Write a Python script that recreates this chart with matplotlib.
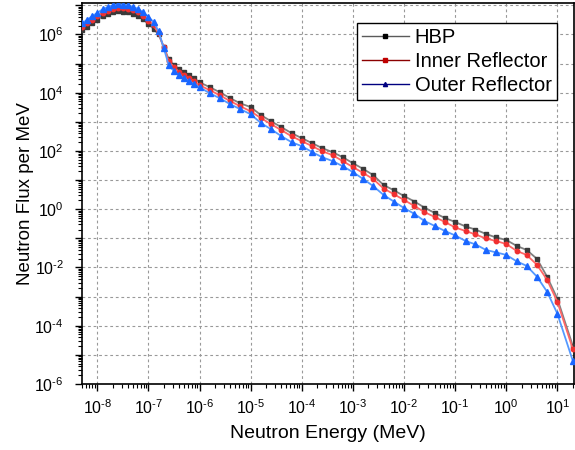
import numpy as np
import matplotlib
matplotlib.use("Agg")
import matplotlib.pyplot as plt
from matplotlib.lines import Line2D
from matplotlib.ticker import LogLocator, NullFormatter, FixedLocator, FixedFormatter

# -----------------------------
# Data (energy in MeV, flux per MeV)
# -----------------------------
energy = [5.0e-9, 6.3e-9, 7.9e-9, 1.0e-8, 1.26e-8, 1.58e-8, 2.0e-8, 2.5e-8,
          3.2e-8, 4.0e-8, 5.0e-8, 6.3e-8, 7.9e-8, 1.0e-7, 1.26e-7, 1.58e-7,
          2.0e-7, 2.5e-7, 3.2e-7, 4.0e-7, 5.0e-7, 6.3e-7, 7.9e-7, 1.0e-6,
          1.6e-6, 2.5e-6, 4.0e-6, 6.3e-6, 1.0e-5, 1.6e-5, 2.5e-5, 4.0e-5,
          6.3e-5, 1.0e-4, 1.6e-4, 2.5e-4, 4.0e-4, 6.3e-4, 1.0e-3, 1.6e-3,
          2.5e-3, 4.0e-3, 6.3e-3, 1.0e-2, 1.6e-2, 2.5e-2, 4.0e-2, 6.3e-2,
          0.1, 0.16, 0.25, 0.4, 0.63, 1.0, 1.6, 2.5, 4.0, 6.3, 10.0, 20.0]

hbp = [1.37e6, 1.85e6, 2.44e6, 3.19e6, 4.2e6, 5.0e6, 5.8e6, 6.2e6,
       6.1e6, 5.75e6, 5.1e6, 4.3e6, 3.27e6, 2.29e6, 1.54e6, 1.0e6,
       3.6e5, 1.39e5, 8.7e4, 6.3e4, 5.0e4, 3.9e4, 3.1e4, 2.27e4,
       1.53e4, 1.03e4, 6.4e3, 4.3e3, 3.2e3, 1.68e3, 1.05e3, 650,
       410, 274, 185, 125, 91, 61, 38, 24,
       14.8, 6.7, 4.5, 2.83, 1.84, 1.14, 0.74, 0.50,
       0.365, 0.256, 0.20, 0.142, 0.107, 0.088, 0.055, 0.040,
       0.0197, 4.8e-3, 8.4e-4, 2.07e-5]

inner = [1.81e6, 2.44e6, 3.21e6, 4.2e6, 5.5e6, 6.6e6, 7.65e6, 8.2e6,
         8.1e6, 7.6e6, 6.7e6, 5.7e6, 4.3e6, 3.0e6, 2.03e6, 1.08e6,
         3.6e5, 1.19e5, 7.4e4, 5.0e4, 3.9e4, 3.1e4, 2.46e4, 1.79e4,
         1.21e4, 8.1e3, 5.1e3, 3.4e3, 2.3e3, 1.33e3, 830, 515,
         320, 217, 146, 98, 72, 45, 28, 17.4,
         10.8, 5.1, 3.3, 2.07, 1.29, 0.80, 0.54, 0.365,
         0.236, 0.179, 0.136, 0.099, 0.081, 0.064, 0.037, 0.027,
         0.0123, 3.76e-3, 6.6e-4, 1.63e-5]

outer = [2.38e6, 3.21e6, 4.24e6, 5.5e6, 7.3e6, 8.7e6, 1.0e7, 1.08e7,
         1.06e7, 1.0e7, 8.9e6, 7.5e6, 5.7e6, 3.97e6, 2.68e6, 1.27e6,
         3.3e5, 8.7e4, 5.4e4, 3.9e4, 3.1e4, 2.46e4, 1.94e4, 1.53e4,
         9.5e3, 6.4e3, 4.0e3, 2.7e3, 1.82e3, 895, 558, 320,
         200, 146, 91, 61, 45, 30, 18.8, 10.8,
         6.2, 3.06, 1.84, 1.1, 0.69, 0.395, 0.266, 0.179,
         0.126, 0.081, 0.062, 0.040, 0.033, 0.027, 0.0162, 0.0114,
         4.8e-3, 1.46e-3, 2.58e-4, 6.3e-6]

labels = ["HBP", "Inner Reflector", "Outer Reflector"]

x_decades = list(range(-8, 2))
y_decades = list(range(-6, 8))


def pow_label(e):
    # short hyphen instead of the wide math minus, as in the reference
    s = str(e).replace("-", "\u2010")
    return f"$10^{{{s}}}$"


# -----------------------------
# Style
# -----------------------------
plt.rcParams['font.family'] = ['Liberation Sans', 'DejaVu Sans']
plt.rcParams['mathtext.default'] = 'regular'
plt.rcParams['axes.unicode_minus'] = False

fig = plt.figure(figsize=(5.75, 4.5), dpi=100)
ax = fig.add_axes([0.1426, 0.1467, 0.8554, 0.8466])

ax.plot(energy, hbp, color='#808080', lw=1.3, marker='s', ms=3.2,
        mfc='#3a3a3a', mec='#3a3a3a', zorder=3)
ax.plot(energy, inner, color='#ff6666', lw=1.3, marker='o', ms=3.2,
        mfc='#f03030', mec='#f03030', zorder=4)
ax.plot(energy, outer, color='#5599ff', lw=1.3, marker='^', ms=3.8,
        mfc='#1a66ff', mec='#1a66ff', zorder=5)

ax.set_xscale('log')
ax.set_yscale('log')
ax.set_xlim(5e-9, 21)
ax.set_ylim(1e-6, 1.2e7)

# x ticks: every decade labelled
ax.xaxis.set_major_locator(FixedLocator([10.0 ** e for e in x_decades]))
ax.xaxis.set_major_formatter(FixedFormatter([pow_label(e) for e in x_decades]))
ax.xaxis.set_minor_locator(LogLocator(base=10, subs=np.arange(2, 10), numticks=30))
ax.xaxis.set_minor_formatter(NullFormatter())

# y ticks: every decade, labels on even exponents
ax.yaxis.set_major_locator(FixedLocator([10.0 ** e for e in y_decades]))
ax.yaxis.set_major_formatter(FixedFormatter(
    [pow_label(e) if e % 2 == 0 else "" for e in y_decades]))
ax.yaxis.set_minor_locator(LogLocator(base=10, subs=np.arange(2, 10), numticks=30))
ax.yaxis.set_minor_formatter(NullFormatter())

ax.tick_params(which='major', direction='out', length=5, width=1, labelsize=11.5)
ax.tick_params(axis='y', which='major', pad=8)
ax.tick_params(axis='x', which='major', pad=5)
ax.tick_params(which='minor', direction='out', length=3, width=0.8)

ax.grid(True, which='major', color='#999999', linestyle=(0, (2.5, 2.5)), lw=0.8)
for sp in ax.spines.values():
    sp.set_linewidth(1.2)

ax.set_xlabel("Neutron Energy (MeV)", fontsize=14, labelpad=6)
ax.set_ylabel("Neutron Flux per MeV", fontsize=13.5, labelpad=0)

handles = [
    Line2D([], [], color='#5a5a5a', lw=1.0, marker='s', ms=2.5,
           mfc='black', mec='black'),
    Line2D([], [], color='#8b0000', lw=1.0, marker='s', ms=2.5,
           mfc='#c00000', mec='#c00000'),
    Line2D([], [], color='#000080', lw=1.0, marker='^', ms=3,
           mfc='#000080', mec='#000080'),
]
leg = ax.legend(handles, labels, loc='upper right', bbox_to_anchor=(0.965, 0.948),
                borderaxespad=0, fontsize=14.5, frameon=True, fancybox=False,
                edgecolor='black', framealpha=1, handlelength=2.3,
                handletextpad=0.3, labelspacing=0.25, borderpad=0.25)
leg.get_frame().set_linewidth(1.0)

fig.savefig("out.png", dpi=100)
